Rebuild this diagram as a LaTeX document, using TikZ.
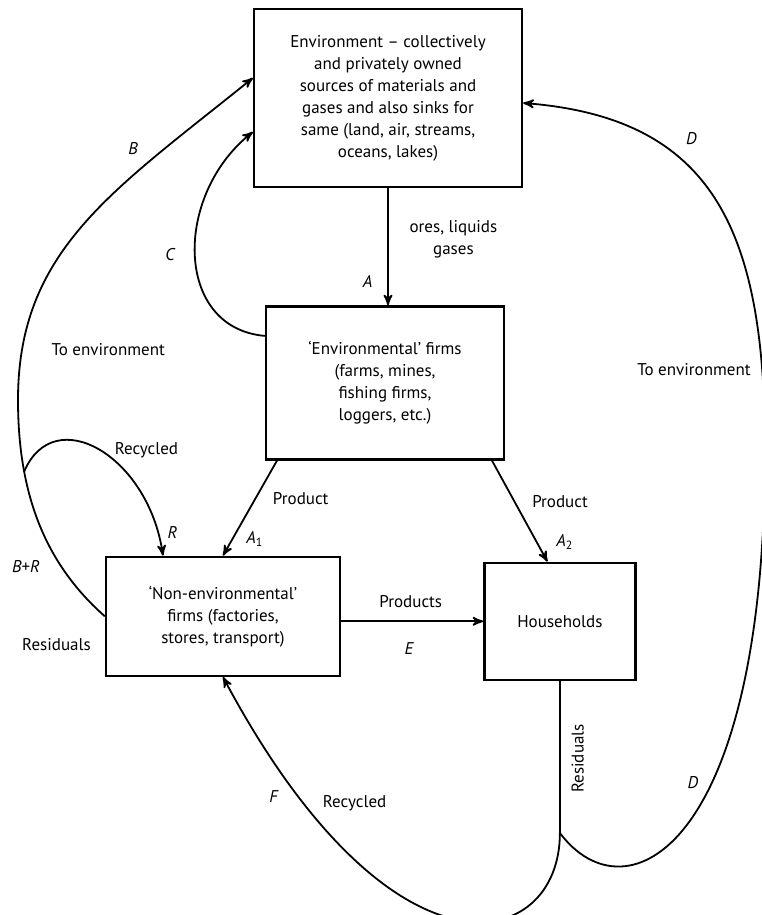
\documentclass[tikz,border=0pt]{standalone}
\usepackage{fontspec}
\setmainfont{PT Sans}
\usetikzlibrary{arrows,positioning}
\tikzset{>=stealth',auto}
\tikzset{box/.style={draw,line width=1.2pt,align=center,inner sep=2pt}}
\tikzset{flow/.style={->,line width=0.9pt}}

\begin{document}
\begin{tikzpicture}[x=0.5pt,y=-0.5pt,font=\fontsize{8.5pt}{11pt}\selectfont]
    \useasboundingbox (0,0) rectangle (761,915);
    \node[box,minimum width=134pt,minimum height=89pt] (env) at (388,98) {
        Environment -- collectively\\
        and privately owned\\
        sources of materials and\\
        gases and also sinks for\\
        same (land, air, streams,\\
        oceans, lakes)};
    \node[box,minimum width=119pt,minimum height=76.5pt] (efirms) [below=58.5pt of env,xshift=-1.5pt] {
        `Environmental' firms\\
        (farms, mines,\\
        fishing firms,\\
        loggers, etc.)};
    \node[box,minimum width=117pt,minimum height=59.5pt] (nonenv) [below=47.5pt of efirms,xshift=-81pt] {
        `Non-environmental'\\
        firms (factories,\\
        stores, transport)};
    \node[box,minimum width=75.5pt,minimum height=58.5pt] (house) [right=71pt of nonenv,yshift=-2.5pt] {Households};
    \node[anchor=east] (resleft) at ([shift={(-3.5pt,-14.25pt)}]nonenv.west) {Residuals};

    \coordinate (bturn) at (18,400);
    \coordinate (dturn) at (765,450);
    \coordinate (fork) at ([yshift=-76pt]house.south);

    % straight flows
    \path[flow]
        (env.south) edge node (lores) [pos=0.44,right=7pt,align=center] {ores, liquids\\ gases}
                         node (lA) [pos=0.8,left=4pt] {\textit{A}} (env.south |- efirms.north)
        ([xshift=-54pt]efirms.south) edge node (lprod1) [pos=0.4,right=5pt] {Product}
                         node (lA1) [pos=0.82,right=3pt] {\textit{A}\textsubscript{1}} (nonenv.north)
        ([xshift=53.5pt]efirms.south) edge node (lprod2) [pos=0.41,right=5pt] {Product}
                         node (lA2) [pos=0.81,right=6pt] {\textit{A}\textsubscript{2}} ([xshift=-6.25pt]house.north)
        (nonenv.east |- house.west) edge node (lprods) [pos=0.49,above=3pt] {Products}
                         node (lE) [pos=0.48,below=7pt] {\textit{E}} (house.west);

    % back to the environment
    \draw[flow] ([yshift=23.5pt]efirms.west) .. controls +(-91,-8) and +(-79,63) .. ([yshift=-17pt]env.west)
        node (lC) [pos=0.5,left=6pt] {\textit{C}};
    \draw[flow] (nonenv.west) .. controls +(-56,-49.5) and +(0,100) .. (bturn)
            coordinate[pos=0.74] (rfork) node (lBR) [pos=0.3,left=7pt] {\textit{B}+\textit{R}}
        .. controls +(0,-150) and +(-140,113) .. ([yshift=10pt]env.west)
            node (lto1) [pos=0.12,right=11pt] {To environment}
            node (lB) [pos=0.72,above left=1pt] {\textit{B}};
    \draw[flow] (rfork) .. controls +(30,-70) and +(-15,-100) .. ([xshift=-30pt]nonenv.north)
        node (lrec1) [pos=0.5,right=4pt] {Recycled}
        node (lR) [pos=0.92,right=1pt] {\textit{R}};

    % household residuals
    \draw[line width=0.9pt] (fork) -- (house.south)
        node (lres) [pos=0.49,sloped,below=2pt] {Residuals};
    \draw[flow] (fork) .. controls +(0,120) and +(169,317) .. (nonenv.south)
        node (lF) [pos=0.85,left=6pt] {\textit{F}}
        node (lrec2) [pos=0.84,right=6pt] {Recycled};
    \draw[flow] (fork) .. controls +(66,88) and +(0,400) .. (dturn)
            node (lD2) [pos=0.6,left=3pt] {\textit{D}}
        .. controls +(0,-220) and +(190,15) .. ([yshift=-2.5pt]env.east)
            node (lto2) [pos=0.13,left=2pt] {To environment}
            node (lD1) [pos=0.65,above right=2pt] {\textit{D}};
\end{tikzpicture}
\end{document}
